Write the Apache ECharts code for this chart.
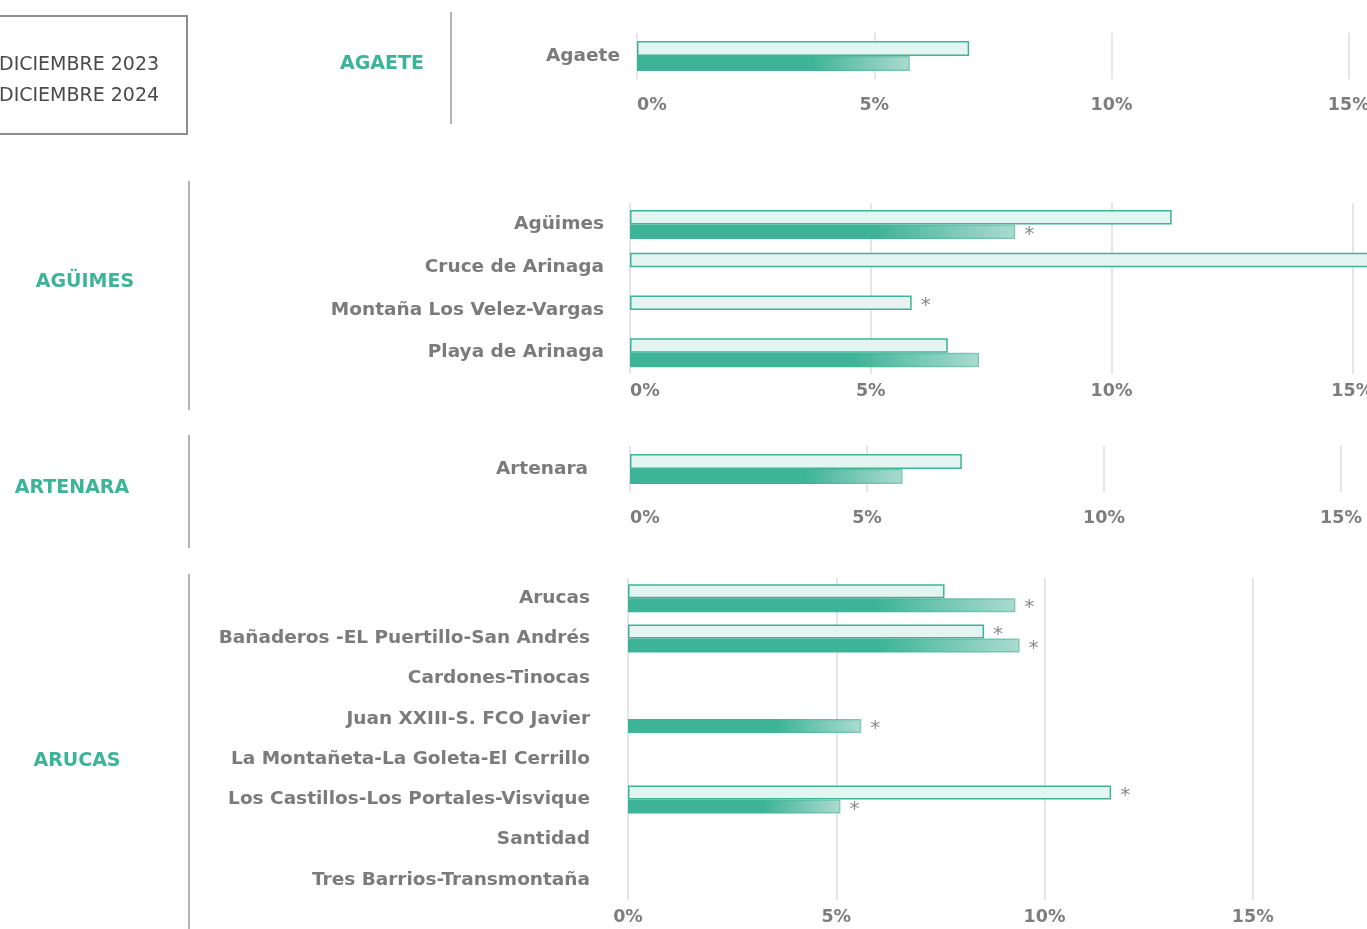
<!DOCTYPE html>
<html>
<head>
<meta charset="utf-8">
<script src="https://cdn.jsdelivr.net/npm/echarts@6/dist/echarts.min.js"></script>
<style>
  html, body { margin: 0; padding: 0; background: #fff; overflow: hidden; }
  /* wider than the window so the value axes run past the right edge */
  #chart { width: 1700px; height: 929px; }
</style>
</head>
<body>
<div id="chart"></div>
<script>
// series names
const seriesNames = ["DICIEMBRE 2023", "DICIEMBRE 2024"];

// group titles
const groupNames = ["AGAETE", "AGÜIMES", "ARTENARA", "ARUCAS"];

// categories per group
const agaeteCats = ["Agaete"];
const aguimesCats = ["Agüimes", "Cruce de Arinaga", "Montaña Los Velez-Vargas", "Playa de Arinaga"];
const artenaraCats = ["Artenara"];
const arucasCats = [
  "Arucas",
  "Bañaderos -EL Puertillo-San Andrés",
  "Cardones-Tinocas",
  "Juan XXIII-S. FCO Javier",
  "La Montañeta-La Goleta-El Cerrillo",
  "Los Castillos-Los Portales-Visvique",
  "Santidad",
  "Tres Barrios-Transmontaña"
];

// values (%), null = no data
const agaete2023 = [7.0];
const agaete2024 = [5.75];
const aguimes2023 = [11.25, 16.0, 5.85, 6.6];
const aguimes2024 = [8.0, null, null, 7.25];
const artenara2023 = [7.0];
const artenara2024 = [5.75];
const arucas2023 = [7.6, 8.55, null, null, null, 11.6, null, null];
const arucas2024 = [9.3, 9.4, null, 5.6, null, 5.1, null, null];

// asterisk marks (1 = *)
const agaeteStar2023 = [0];
const agaeteStar2024 = [0];
const aguimesStar2023 = [0, 0, 1, 0];
const aguimesStar2024 = [1, 0, 0, 0];
const artenaraStar2023 = [0];
const artenaraStar2024 = [0];
const arucasStar2023 = [0, 1, 0, 0, 0, 1, 0, 0];
const arucasStar2024 = [1, 1, 0, 1, 0, 1, 0, 0];

const FONT = "DejaVu Sans";
const GREEN = "#3db497";
const GREY = "#7b7b7b";

// panel layout: grid box + label margins
const panels = [
  { cats: agaeteCats, v23: agaete2023, v24: agaete2024, s23: agaeteStar2023, s24: agaeteStar2024,
    grid: { left: 637, top: 33, width: 949, height: 46 }, barW: 15, xMargin: 17, yMargin: 17, minLeft: true },
  { cats: aguimesCats, v23: aguimes2023, v24: aguimes2024, s23: aguimesStar2023, s24: aguimesStar2024,
    grid: { left: 630, top: 203, width: 963, height: 171 }, barW: 14.5, xMargin: 8, yMargin: 26, minLeft: true },
  { cats: artenaraCats, v23: artenara2023, v24: artenara2024, s23: artenaraStar2023, s24: artenaraStar2024,
    grid: { left: 630, top: 446, width: 948, height: 46 }, barW: 15, xMargin: 17, yMargin: 42, minLeft: true },
  { cats: arucasCats, v23: arucas2023, v24: arucas2024, s23: arucasStar2023, s24: arucasStar2024,
    grid: { left: 628, top: 578, width: 833, height: 322 }, barW: 14, xMargin: 8, yMargin: 38, minLeft: false }
];

const darkFill = new echarts.graphic.LinearGradient(0, 0, 1, 0, [
  { offset: 0, color: GREEN },
  { offset: 0.64, color: GREEN },
  { offset: 1, color: "#abdbcf" }
]);
const darkBorder = new echarts.graphic.LinearGradient(0, 0, 1, 0, [
  { offset: 0, color: GREEN },
  { offset: 0.64, color: GREEN },
  { offset: 1, color: "#7fcab6" }
]);

function starLabel(flags) {
  return {
    show: true,
    position: "right",
    distance: 9,
    offset: [0, 3],
    color: "#8a8a8a",
    fontSize: 20,
    fontFamily: FONT,
    formatter: p => (flags[p.dataIndex] ? "*" : "")
  };
}

const grids = [], xAxes = [], yAxes = [], series = [];
panels.forEach((p, i) => {
  grids.push(Object.assign({ containLabel: false }, p.grid));
  xAxes.push({
    gridIndex: i, type: "value", min: 0, max: 20, interval: 5,
    axisLine: { show: false }, axisTick: { show: false },
    splitLine: { show: true, lineStyle: { color: "#dcdcdc", width: 1.5 } },
    axisLabel: {
      formatter: "{value}%", margin: p.xMargin, fontSize: 17.5, fontWeight: "bold",
      color: "#7d7d7d", fontFamily: FONT,
      alignMinLabel: p.minLeft ? "left" : "center"
    }
  });
  yAxes.push({
    gridIndex: i, type: "category", data: p.cats, inverse: true,
    axisLine: { show: false }, axisTick: { show: false },
    axisLabel: { margin: p.yMargin, fontSize: 18.5, fontWeight: "bold", color: GREY, fontFamily: FONT }
  });
  series.push({
    name: seriesNames[0], type: "bar", xAxisIndex: i, yAxisIndex: i,
    data: p.v23, barWidth: p.barW, barGap: "0%",
    itemStyle: { color: "#e4f4f0", borderColor: GREEN, borderWidth: 1.5 },
    label: starLabel(p.s23)
  });
  series.push({
    name: seriesNames[1], type: "bar", xAxisIndex: i, yAxisIndex: i,
    data: p.v24, barWidth: p.barW, barGap: "0%",
    itemStyle: { color: darkFill, borderColor: darkBorder, borderWidth: 1.5 },
    label: starLabel(p.s24)
  });
});

function groupTitle(text, x, y) {
  return {
    type: "text", x: x, y: y,
    style: { text: text, fill: GREEN, font: "bold 19px '" + FONT + "'", textAlign: "center", textVerticalAlign: "middle" }
  };
}
function divider(x, y1, y2) {
  return { type: "line", shape: { x1: x, y1: y1, x2: x, y2: y2 }, style: { stroke: "#9a9a9a", lineWidth: 1.5 } };
}

const chart = echarts.init(document.getElementById("chart"), null, { renderer: "canvas" });
chart.setOption({
  backgroundColor: "#fff",
  animation: false,
  legend: {
    data: seriesNames,
    orient: "vertical",
    left: -36,
    top: 51,
    itemGap: 12,
    itemWidth: 24,
    itemHeight: 14,
    selectedMode: false,
    textStyle: { fontSize: 19, color: "#4a4a4a", fontFamily: FONT }
  },
  grid: grids,
  xAxis: xAxes,
  yAxis: yAxes,
  series: series,
  graphic: [
    { type: "rect", shape: { x: -10, y: 16, width: 197, height: 118 }, style: { fill: "none", stroke: "#8c8c8c", lineWidth: 2 } },
    groupTitle(groupNames[0], 382, 64),
    groupTitle(groupNames[1], 85, 282),
    groupTitle(groupNames[2], 72, 488),
    groupTitle(groupNames[3], 77, 761),
    divider(451, 12, 124),
    divider(189, 181, 410),
    divider(189, 435, 548),
    divider(189, 574, 929)
  ]
});
</script>
</body>
</html>
